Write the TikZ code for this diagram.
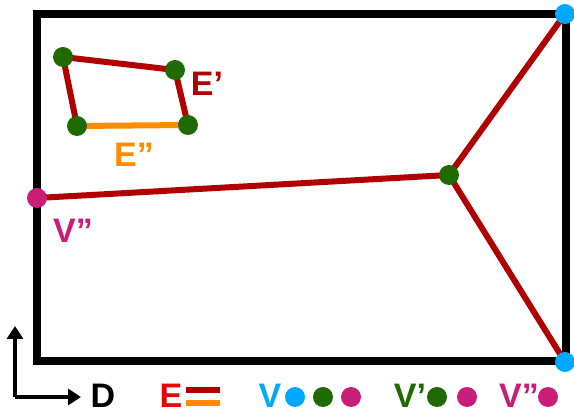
\documentclass[tikz,border=0pt]{standalone}
\usepackage{fontspec}
\setmainfont{Liberation Sans}
\usetikzlibrary{arrows.meta}
\definecolor{dred}{HTML}{B00000}
\definecolor{orng}{HTML}{FF8C00}
\definecolor{dgrn}{HTML}{1F6B00}
\definecolor{vblue}{HTML}{00A8FF}
\definecolor{mgnt}{HTML}{C81E78}
\definecolor{brred}{HTML}{EE0000}
\begin{document}
\begin{tikzpicture}[x=1pt,y=-1pt,
  dot/.style={circle,inner sep=0pt,minimum size=20pt},
  gdot/.style={dot,fill=dgrn},
  bdot/.style={dot,fill=vblue},
  mdot/.style={dot,fill=mgnt},
  redge/.style={dred,line width=6pt},
  oedge/.style={orng,line width=6pt},
  lbl/.style={font=\fontsize{34}{34}\selectfont\bfseries,inner sep=0pt}]
\useasboundingbox (0,0) rectangle (574,411);
% frame
\draw[line width=7.5pt] (37,14) rectangle (566,361);
% main graph
\coordinate (c) at (449,175);
\coordinate (tr) at (565,14);
\coordinate (br) at (565,362);
\coordinate (l) at (37,198);
\draw[redge] (l) -- (c);
\draw[redge] (c) -- (tr);
\draw[redge] (c) -- (br);
\node[gdot] (cn) at (c) {};
\node[bdot] (trn) at (tr) {};
\node[bdot] (brn) at (br) {};
\node[mdot] (ln) at (l) {};
% quadrilateral
\coordinate (q1) at (63,57);
\coordinate (q2) at (175,70);
\coordinate (q3) at (188,125);
\coordinate (q4) at (77,126);
\draw[redge] (q4) -- (q1) -- (q2) -- (q3);
\draw[oedge] (q4) -- (q3);
\foreach \q in {q1,q2,q3,q4} \node[gdot] (n\q) at (\q) {};
% labels
\node[lbl,text=dred] (ep) at (207,84) {E’};
\node[lbl,text=orng] (epp) at (134,155) {E”};
\node[lbl,text=mgnt] (vpp) at (73,231) {V”};
% axes legend
\coordinate (o) at (15,397);
\coordinate (ax1) at (15,326);
\coordinate (ax2) at (81,397);
\draw[line width=4pt,-{Triangle[length=13pt,width=16pt]}] (o) -- (ax1);
\draw[line width=4pt,-{Triangle[length=13pt,width=16pt]}] (o) -- (ax2);
\node[lbl] (D) at (103,396) {D};
% E legend
\node[lbl,text=brred] (E) at (171,396) {E};
\draw[redge] (186,390) -- (220,390);
\draw[oedge] (186,403) -- (220,403);
% V legend
\node[lbl,text=vblue] (V) at (270,396) {V};
\node[bdot] (l1) at (295,397) {};
\node[gdot] (l2) at (323,397) {};
\node[mdot] (l3) at (351,397) {};
\node[lbl,text=dgrn] (Vp) at (410,396) {V’};
\node[gdot] (l4) at (437,397) {};
\node[mdot] (l5) at (467,397) {};
\node[lbl,text=mgnt] (Vpp) at (519,396) {V”};
\node[mdot] (l6) at (548,397) {};
\end{tikzpicture}
\end{document}
